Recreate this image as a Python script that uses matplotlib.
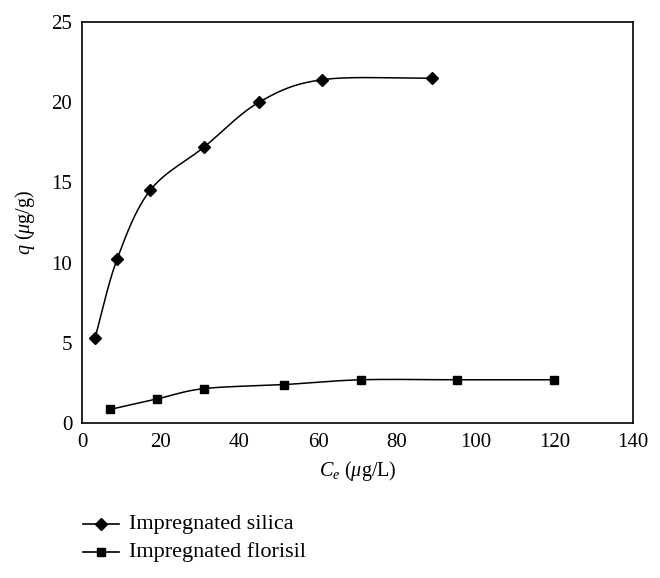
import numpy as np
import matplotlib
matplotlib.use("Agg")
import matplotlib.pyplot as plt
from matplotlib.lines import Line2D

plt.rcParams['font.family'] = ['Liberation Serif', 'DejaVu Serif']
plt.rcParams['mathtext.fontset'] = 'custom'
plt.rcParams['mathtext.rm'] = 'Liberation Serif'
plt.rcParams['mathtext.it'] = 'Liberation Serif:italic'

# data
silica_ce = [3.3, 8.9, 17.3, 31.0, 45.0, 61.0, 89.0]
silica_q = [5.3, 10.2, 14.5, 17.2, 20.0, 21.4, 21.5]
florisil_ce = [7.1, 19.0, 31.0, 51.3, 70.9, 95.3, 120.0]
florisil_q = [0.85, 1.5, 2.15, 2.4, 2.7, 2.7, 2.7]
labels = ['Impregnated silica', 'Impregnated florisil']


def smooth(x, y, n=30):
    # Catmull-Rom curve through the points, like a spreadsheet "smoothed line"
    x = np.asarray(x, float)
    y = np.asarray(y, float)
    px = np.concatenate([[2 * x[0] - x[1]], x, [2 * x[-1] - x[-2]]])
    py = np.concatenate([[2 * y[0] - y[1]], y, [2 * y[-1] - y[-2]]])
    t = np.linspace(0, 1, n)
    xs, ys = [], []
    for i in range(1, len(px) - 2):
        for p, out in ((px, xs), (py, ys)):
            p0, p1, p2, p3 = p[i - 1], p[i], p[i + 1], p[i + 2]
            out.extend(0.5 * (2 * p1 + (-p0 + p2) * t
                              + (2 * p0 - 5 * p1 + 4 * p2 - p3) * t ** 2
                              + (-p0 + 3 * p1 - 3 * p2 + p3) * t ** 3))
    return xs, ys


fig = plt.figure(figsize=(6.6, 5.78), dpi=100)
ax = fig.add_axes([0.1242, 0.268, 0.835, 0.694])

ax.plot(*smooth(silica_ce, silica_q), color='black', lw=1.1)
ax.plot(silica_ce, silica_q, 'D', color='black', ms=6)
ax.plot(*smooth(florisil_ce, florisil_q), color='black', lw=1.1)
ax.plot(florisil_ce, florisil_q, 's', color='black', ms=6)

ax.set_xlim(0, 140)
ax.set_ylim(0, 25)
ax.set_xticks(range(0, 141, 20))
ax.set_yticks(range(0, 26, 5))
ax.tick_params(length=0, labelsize=15, pad=7)
for s in ax.spines.values():
    s.set_linewidth(1.2)

ax.set_xlabel(r'$C_e$ ($\mu$g/L)', fontsize=14.5, labelpad=5)
ax.set_ylabel(r'$q$ ($\mu$g/g)', fontsize=14.5, labelpad=10)

# legend below the plot, marker in the middle of each short line
for i, (lab, mk, ms) in enumerate(zip(labels, ['D', 's'], [6, 5.8])):
    yy = 1 - (524 + 28 * i) / 578
    fig.add_artist(Line2D([83 / 660, 119 / 660], [yy, yy], color='black', lw=1.2))
    fig.add_artist(Line2D([101 / 660], [yy], marker=mk, ms=ms, color='black'))
    fig.text(129 / 660, yy, lab, fontsize=16, va='center', ha='left')

fig.savefig('out.png', dpi=100)
